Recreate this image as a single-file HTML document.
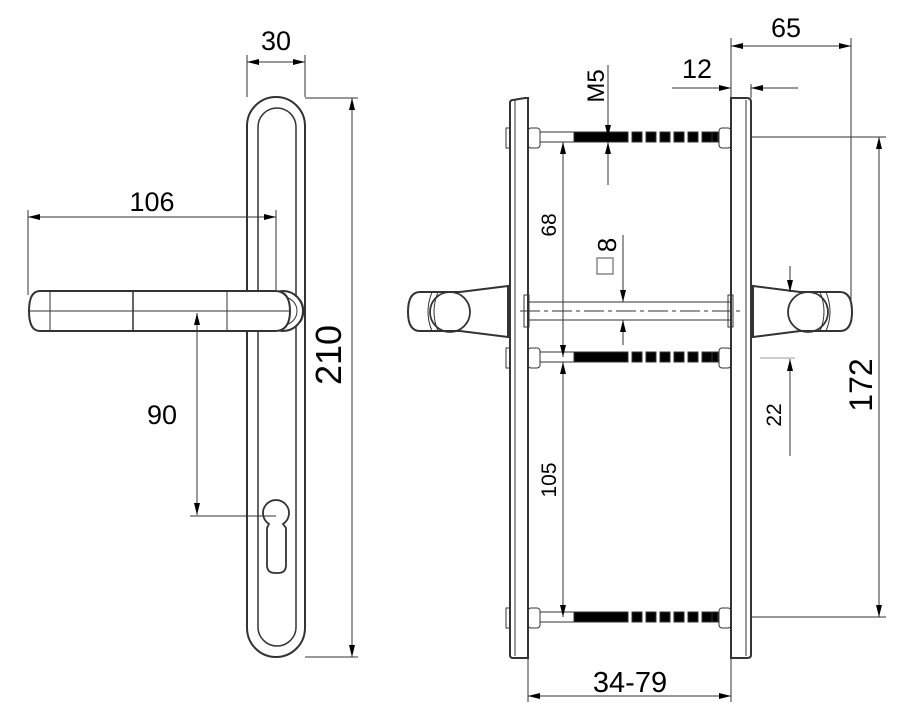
<!DOCTYPE html>
<html><head><meta charset="utf-8"><style>html,body{margin:0;padding:0;background:#fff}svg{display:block}text{font-family:"Liberation Sans",sans-serif;fill:#000}</style></head><body>
<svg width="907" height="727" viewBox="0 0 907 727" xmlns="http://www.w3.org/2000/svg">
<defs>
<marker id="a" viewBox="0 0 12 6" refX="12" refY="3" markerWidth="12" markerHeight="6" orient="auto-start-reverse" markerUnits="userSpaceOnUse"><path d="M0,0 L12,3 L0,6 z" fill="#000"/></marker>
</defs>
<g fill="none" stroke="#333" stroke-width="1">
<rect x="247" y="97" width="58" height="560" rx="29" stroke-width="2"/>
<rect x="258" y="108" width="38" height="538" rx="19" stroke-width="1.5"/>
<path d="M300,300 A20,20 0 0 1 300,322" stroke-width="2"/>
<circle cx="283" cy="311" r="20" stroke-width="2" fill="#fff"/>
<circle cx="283" cy="311" r="14" stroke-width="1"/>
<path d="M40,291 L275,291 Q290,291 290,311 Q290,331 275,331 L40,331 Q29,331 29,311 Q29,291 40,291 z" stroke-width="2" fill="#fff"/>
<line x1="29" y1="311" x2="290" y2="311"/>
<line x1="50" y1="291" x2="50" y2="331"/>
<line x1="133" y1="291" x2="133" y2="331" stroke-width="1.5"/>
<line x1="227" y1="291" x2="227" y2="331"/>
<path d="M269,524 A13,13 0 1 1 283,524 L286,528 L286,565 Q286,573 278,573 L275,573 Q267,573 267,565 L267,528 z" stroke-width="1.8"/>
<line x1="247" y1="55" x2="247" y2="97"/><line x1="305" y1="55" x2="305" y2="97"/>
<line x1="247" y1="62" x2="305" y2="62" marker-start="url(#a)" marker-end="url(#a)"/>
<line x1="305" y1="98" x2="358" y2="98"/><line x1="305" y1="657" x2="358" y2="657"/>
<line x1="352" y1="98" x2="352" y2="657" marker-start="url(#a)" marker-end="url(#a)"/>
<line x1="28" y1="210" x2="28" y2="295"/><line x1="276" y1="210" x2="276" y2="290"/>
<line x1="28" y1="217" x2="276" y2="217" marker-start="url(#a)" marker-end="url(#a)"/>
<line x1="197" y1="313" x2="197" y2="515" marker-start="url(#a)" marker-end="url(#a)"/>
<line x1="190" y1="516" x2="276" y2="516"/>

<path d="M513,100 L525,98 L528,98 L528,658 L513,658 Q510,658 510,655 L510,103 Q510,100 513,100 z" stroke-width="2"/>
<line x1="515" y1="100" x2="515" y2="656"/>
<path d="M731,98 L747,98 Q751,98 751,102 L751,655 Q751,658 747,658 L731,658 z" stroke-width="2"/>
<line x1="746" y1="100" x2="746" y2="656"/>
<g id="bolt">
<rect x="506" y="128" width="4" height="20"/>
<rect x="528" y="128" width="12" height="20" rx="3"/>
<rect x="719" y="128" width="12" height="20" rx="3"/>
<rect x="540" y="132" width="34" height="10"/>
<rect x="574" y="132" width="54" height="10" fill="#000"/>
<rect x="632" y="132" width="10" height="10" fill="#000"/>
<rect x="646" y="132" width="10" height="10" fill="#000"/>
<rect x="660" y="132" width="10" height="10" fill="#000"/>
<rect x="674" y="132" width="10" height="10" fill="#000"/>
<rect x="688" y="132" width="10" height="10" fill="#000"/>
<rect x="702" y="132" width="10" height="10" fill="#000"/>
<rect x="712" y="132" width="6" height="10" fill="#000"/>
</g>
<use href="#bolt" y="220"/>
<use href="#bolt" y="480"/>
<rect x="528" y="302" width="203" height="18"/>
<line x1="520" y1="311" x2="740" y2="311" stroke-dasharray="20,4,4,4"/>
<rect x="524" y="295" width="5" height="32"/>
<rect x="728" y="295" width="5" height="32"/>
<path d="M508,286 L460,292 L420,292 Q408,292 408,312 Q408,331 420,331 L460,331 L508,337 z" stroke-width="2" fill="#fff"/>
<circle cx="450" cy="312" r="20" stroke-width="1.8"/>
<path d="M432,292 Q424,312 432,331 M438,292 Q430,312 438,331"/>
<path d="M753,286 L800,292 L840,292 Q852,292 852,312 Q852,331 840,331 L800,331 L753,337 z" stroke-width="2" fill="#fff"/>
<circle cx="808" cy="312" r="20" stroke-width="1.8"/>
<path d="M826,292 Q834,312 826,331 M820,292 Q828,312 820,331"/>
<line x1="608" y1="65" x2="608" y2="137" marker-end="url(#a)"/>
<line x1="608" y1="185" x2="608" y2="142" marker-end="url(#a)"/>
<line x1="731" y1="38" x2="731" y2="98"/><line x1="851" y1="38" x2="851" y2="300"/>
<line x1="731" y1="46" x2="851" y2="46" marker-start="url(#a)" marker-end="url(#a)"/>
<line x1="672" y1="88" x2="731" y2="88" marker-end="url(#a)"/>
<line x1="798" y1="88" x2="751" y2="88" marker-end="url(#a)"/>
<line x1="751" y1="84" x2="751" y2="98"/>
<line x1="563" y1="142" x2="563" y2="357" marker-start="url(#a)" marker-end="url(#a)"/>
<line x1="563" y1="362" x2="563" y2="617" marker-start="url(#a)" marker-end="url(#a)"/>
<line x1="623" y1="235" x2="623" y2="302" marker-end="url(#a)"/>
<line x1="623" y1="345" x2="623" y2="320" marker-end="url(#a)"/>
<rect x="597" y="258" width="16" height="16" stroke="#888" stroke-width="1.5"/>
<line x1="790" y1="266" x2="790" y2="292" marker-end="url(#a)"/>
<line x1="790" y1="456" x2="790" y2="359" marker-end="url(#a)"/>
<line x1="760" y1="358" x2="795" y2="358" stroke="#999"/>
<line x1="751" y1="137" x2="886" y2="137"/><line x1="751" y1="617" x2="886" y2="617"/>
<line x1="879" y1="137" x2="879" y2="617" marker-start="url(#a)" marker-end="url(#a)"/>
<line x1="528" y1="658" x2="528" y2="702"/><line x1="731" y1="658" x2="731" y2="702"/>
<line x1="528" y1="696" x2="731" y2="696" marker-start="url(#a)" marker-end="url(#a)"/>
</g>
<text x="276" y="50" font-size="27" text-anchor="middle">30</text>
<text x="152" y="211" font-size="27" text-anchor="middle">106</text>
<text x="162" y="424" font-size="27" text-anchor="middle">90</text>
<text transform="translate(341,355) rotate(-90)" font-size="36" text-anchor="middle">210</text>
<text x="786" y="37" font-size="27" text-anchor="middle">65</text>
<text x="697" y="78" font-size="27" text-anchor="middle">12</text>
<text transform="translate(604,86) rotate(-90)" font-size="24" text-anchor="middle">M5</text>
<text transform="translate(556,225) rotate(-90)" font-size="21" text-anchor="middle">68</text>
<text transform="translate(616,245) rotate(-90)" font-size="26" text-anchor="middle">8</text>
<text transform="translate(556,480) rotate(-90)" font-size="21" text-anchor="middle">105</text>
<text transform="translate(781,415) rotate(-90)" font-size="21" text-anchor="middle">22</text>
<text transform="translate(872,385) rotate(-90)" font-size="32" text-anchor="middle">172</text>
<text x="630" y="692" font-size="29" text-anchor="middle">34-79</text>
</svg>
</body></html>
